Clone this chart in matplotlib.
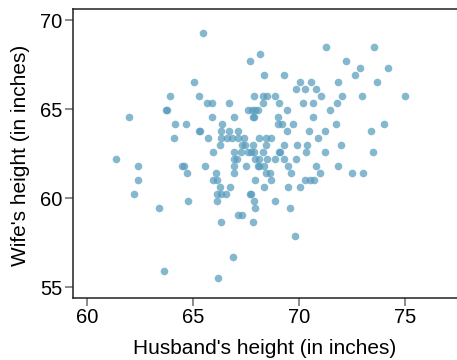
import matplotlib
matplotlib.use("Agg")
import matplotlib.pyplot as plt
import numpy as np

plt.rcParams['font.family'] = ['Liberation Sans', 'DejaVu Sans']

# Husband's height (in inches)
husband = [
    65.50,
    71.26, 73.54,
    68.15,
    67.71, 72.23,
    72.88, 74.18,
    68.34, 69.28, 72.64,
    65.07, 70.07, 70.58, 71.84, 73.66,
    69.85, 70.27, 70.82,
    63.94, 65.27, 67.90, 68.31, 68.50, 68.87, 71.02, 72.02, 72.96, 75.00,
    65.68, 65.90, 66.71, 68.31, 69.06, 70.21, 70.68, 71.81,
    63.75, 63.79, 67.58, 67.77, 67.91, 68.09, 69.45, 71.47,
    62.01, 65.92, 66.93, 67.85, 67.89, 69.02, 70.68,
    64.18, 64.69, 66.39, 69.00, 69.20, 69.72, 71.77, 74.01,
    65.30, 65.34, 66.31, 66.69, 67.12, 69.45, 70.48, 71.22, 73.38,
    64.13, 65.70, 66.33, 66.59, 66.86, 67.13, 67.43, 68.11, 68.46, 68.69, 70.91,
    66.26, 67.32, 67.48, 67.86, 68.47, 69.30, 69.89, 70.40, 71.97,
    65.95, 66.93, 67.27, 67.58, 67.74, 67.88, 68.31, 69.08, 69.12, 70.32, 71.23, 73.47,
    61.38, 66.93, 67.07, 67.92, 68.13, 68.50, 68.86, 69.28, 69.85,
    62.40, 64.48, 64.60, 65.59, 66.93, 67.52, 68.05, 68.10, 68.34, 69.49, 70.79, 71.84,
    64.73, 66.09, 66.93, 68.44, 68.62, 69.64, 70.98, 72.48, 73.03,
    62.40, 65.93, 66.14, 67.92, 68.70, 70.31, 70.52, 70.71,
    66.30, 66.74, 68.34, 69.49, 70.03,
    62.21, 66.13, 66.35, 66.58, 67.69, 67.73,
    64.77, 66.14, 67.87, 68.86,
    63.39, 67.92, 69.59,
    67.11, 67.32,
    66.34, 67.84,
    69.82,
    66.89,
    63.63,
    66.19,
]

# Wife's height (in inches)
wife = (
    [69.29] * 1 + [68.50] * 2 + [68.11] * 1 + [67.72] * 2 + [67.32] * 2 +
    [66.93] * 3 + [66.54] * 5 + [66.14] * 3 + [65.75] * 10 + [65.35] * 8 +
    [64.96] * 8 + [64.57] * 7 + [64.17] * 8 + [63.78] * 9 + [63.39] * 11 +
    [62.99] * 9 + [62.60] * 12 + [62.20] * 9 + [61.81] * 12 + [61.42] * 9 +
    [61.02] * 8 + [60.63] * 5 + [60.24] * 6 + [59.84] * 4 + [59.45] * 3 +
    [59.06] * 2 + [58.66] * 2 + [57.87] * 1 + [56.69] * 1 + [55.91] * 1 +
    [55.51] * 1
)

x_ticks = [60, 65, 70, 75]
y_ticks = [55, 60, 65, 70]

W, H = 457, 360
fig = plt.figure(figsize=(W / 100, H / 100), dpi=100)
ax = fig.add_axes([72.7 / W, (H - 297.7) / H, (W - 72.7) / W, (297.7 - 9) / H])

ax.scatter(husband, wife, s=30, color='#569BBD', alpha=0.72, linewidths=0, zorder=3)

ax.set_xlim(59.34, 77.45)
ax.set_ylim(54.42, 70.62)
ax.set_xticks(x_ticks)
ax.set_yticks(y_ticks)
ax.tick_params(axis='both', length=5.5, width=1.2, color='#777777',
               labelsize=14.5, labelcolor='black', pad=2)

for side in ['left', 'bottom', 'top']:
    ax.spines[side].set_color('#222222')
    ax.spines[side].set_linewidth(1.1)
ax.spines['right'].set_visible(False)

ax.set_xlabel("Husband's height (in inches)", fontsize=15, va='baseline')
ax.xaxis.set_label_coords(0.5, -(354 - 297.7) / 288.7)
ax.set_ylabel("Wife's height (in inches)", fontsize=15, va='center')
ax.yaxis.set_label_coords((20.5 - 72.7) / 384.3, 0.494)

fig.savefig('out.png', dpi=100)
